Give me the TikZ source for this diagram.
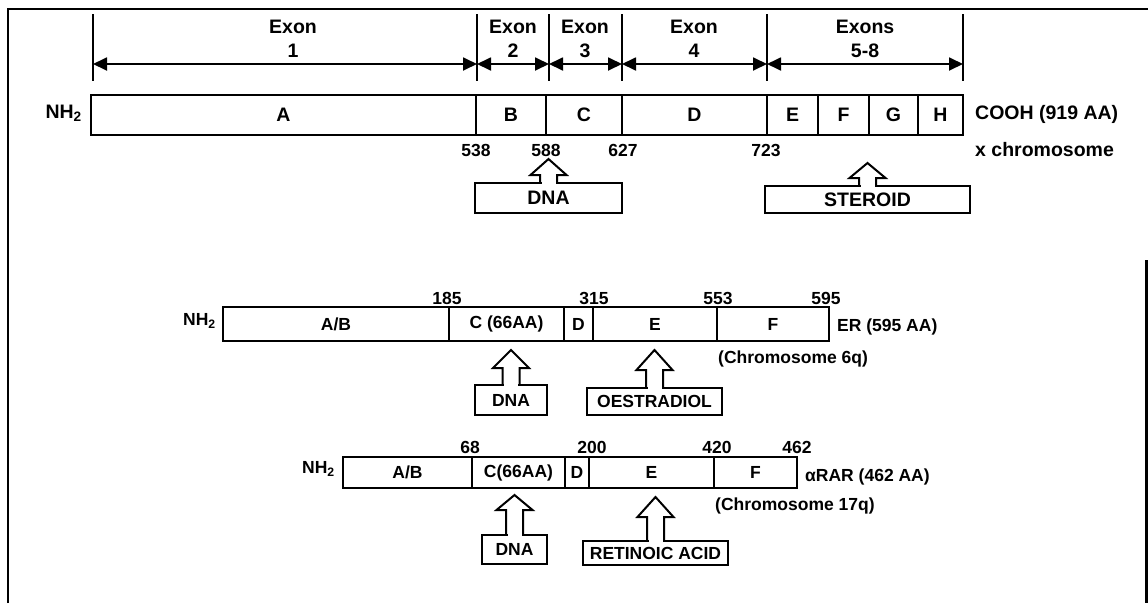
\documentclass[tikz,border=0pt]{standalone}
\usepackage{fontspec}
\setmainfont{Liberation Sans}
\usetikzlibrary{arrows.meta,calc}
\newcommand\hollowup[3]{%
  \fill[white] ([xshift=-7pt,yshift=-1.6pt]#1.north) rectangle ([xshift=7pt,yshift=#2]#1.north);
  \draw[harrow] ([xshift=-8.5pt]#1.north) -- ([xshift=-8.5pt,yshift=#2]#1.north)
    -- ([xshift=-18pt,yshift=#2]#1.north) -- ([yshift=#3]#1.north)
    -- ([xshift=18pt,yshift=#2]#1.north) -- ([xshift=8.5pt,yshift=#2]#1.north)
    -- ([xshift=8.5pt]#1.north);}
\begin{document}
\begin{tikzpicture}[x=1pt,y=-1pt,
  seg/.style={draw,line width=2pt,inner sep=0pt,outer sep=0pt,anchor=center},
  big/.style={font=\fontsize{19.5}{24}\selectfont\bfseries},
  mid/.style={font=\fontsize{17.5}{20}\selectfont\bfseries},
  lab/.style={inner sep=0pt},
  dim/.style={line width=1.8pt,{Triangle[length=14pt,width=13pt]}-{Triangle[length=14pt,width=13pt]}},
  guide/.style={line width=2pt},
  harrow/.style={line width=2pt,line join=miter}]
\useasboundingbox (0,0) rectangle (1148,603);
% frame
\draw[line width=2.2pt] (8,603) -- (8,9) -- (1148,9);
\draw[line width=2.2pt] (1146.5,260) -- (1146.5,603);

% ---------- exon dimension lines ----------
\foreach \n/\x in {0/93,1/477,2/549,3/622,4/767,5/963}{
  \coordinate (e\n) at (\x,64);
  \draw[guide] ([yshift=50pt]e\n) -- ([yshift=-17pt]e\n);
}
\draw[dim] (e0) -- (e1);
\draw[dim] (e1) -- (e2);
\draw[dim] (e2) -- (e3);
\draw[dim] (e3) -- (e4);
\draw[dim] (e4) -- (e5);
\node[big,lab,align=center] (x1) at (293,39) {Exon\\1};
\node[big,lab,align=center] (x2) at (513,39) {Exon\\2};
\node[big,lab,align=center] (x3) at (585,39) {Exon\\3};
\node[big,lab,align=center] (x4) at (694,39) {Exon\\4};
\node[big,lab,align=center] (x5) at (865,39) {Exons\\5-8};

% ---------- row 1 ----------
\node[seg,big,minimum width=385pt,minimum height=40pt] (A1) at (283.5,115) {A};
\node[seg,big,minimum width=70pt,minimum height=40pt] (B1) at (511,115) {B};
\node[seg,big,minimum width=76pt,minimum height=40pt] (C1) at (584,115) {C};
\node[seg,big,minimum width=145pt,minimum height=40pt] (D1) at (694.5,115) {D};
\node[seg,big,minimum width=51pt,minimum height=40pt] (E1) at (792.5,115) {E};
\node[seg,big,minimum width=51pt,minimum height=40pt] (F1) at (843.5,115) {F};
\node[seg,big,minimum width=49pt,minimum height=40pt] (G1) at (893.5,115) {G};
\node[seg,big,minimum width=45pt,minimum height=40pt] (H1) at (940.5,115) {H};
\node[big,lab,anchor=east] (nh1) at (82,113) {NH\textsubscript{2}};
\node[big,lab,anchor=west] (cooh) at (975,114) {COOH (919 AA)};
\node[big,lab,anchor=west] (xch) at (975,150) {x chromosome};
\node[mid,lab] (n538) at (476,150) {538};
\node[mid,lab] (n588) at (546,150) {588};
\node[mid,lab] (n627) at (623,150) {627};
\node[mid,lab] (n723) at (766,150) {723};
\node[seg,big,minimum width=147pt,minimum height=30pt] (dna1) at (548.5,198) {DNA};
\node[seg,big,minimum width=205pt,minimum height=27pt] (ster) at (867.5,199.5) {STEROID};
\hollowup{dna1}{8pt}{24pt}
\hollowup{ster}{8pt}{23pt}

% ---------- row 2 (ER) ----------
\node[seg,mid,minimum width=226pt,minimum height=34pt] (AB2) at (336,324) {A/B};
\node[seg,mid,minimum width=115pt,minimum height=34pt] (C2) at (506.5,324) {C (66AA)};
\node[seg,mid,minimum width=29pt,minimum height=34pt] (D2) at (578.5,324) {D};
\node[seg,mid,minimum width=124pt,minimum height=34pt] (E2) at (655,324) {E};
\node[seg,mid,minimum width=112pt,minimum height=34pt] (F2) at (773,324) {F};
\node[mid,lab,anchor=east] (nh2) at (216,321) {NH\textsubscript{2}};
\node[mid,lab,anchor=west] (er) at (837,327) {ER (595 AA)};
\node[mid,lab,anchor=west] (ch6) at (718,359) {(Chromosome 6q)};
\node[mid,lab] (n185) at (447,298) {185};
\node[mid,lab] (n315) at (594,298) {315};
\node[mid,lab] (n553) at (718,298) {553};
\node[mid,lab] (n595) at (826,298) {595};
\node[seg,mid,minimum width=72pt,minimum height=30pt] (dna2) at (511,400) {DNA};
\node[seg,mid,minimum width=135pt,minimum height=27pt] (oes) at (654.5,401.5) {OESTRADIOL};
\hollowup{dna2}{17pt}{35pt}
\hollowup{oes}{18pt}{38pt}

% ---------- row 3 (RAR) ----------
\node[seg,mid,minimum width=129pt,minimum height=31pt] (AB3) at (407.5,472.5) {A/B};
\node[seg,mid,minimum width=93pt,minimum height=31pt] (C3) at (518.5,472.5) {C(66AA)};
\node[seg,mid,minimum width=24pt,minimum height=31pt] (D3) at (577,472.5) {D};
\node[seg,mid,minimum width=125pt,minimum height=31pt] (E3) at (651.5,472.5) {E};
\node[seg,mid,minimum width=83pt,minimum height=31pt] (F3) at (755.5,472.5) {F};
\node[mid,lab,anchor=east] (nh3) at (335,469) {NH\textsubscript{2}};
\node[mid,lab,anchor=west] (rar) at (805,477) {αRAR (462 AA)};
\node[mid,lab,anchor=west] (ch17) at (715,506) {(Chromosome 17q)};
\node[mid,lab] (n68) at (470,447) {68};
\node[mid,lab] (n200) at (592,447) {200};
\node[mid,lab] (n420) at (717,447) {420};
\node[mid,lab] (n462) at (797,447) {462};
\node[seg,mid,minimum width=65pt,minimum height=29pt] (dna3) at (514.5,549.5) {DNA};
\node[seg,mid,minimum width=145pt,minimum height=24pt] (ret) at (655.5,553) {RETINOIC ACID};
\hollowup{dna3}{25pt}{40pt}
\hollowup{ret}{24pt}{44pt}
\end{tikzpicture}
\end{document}
